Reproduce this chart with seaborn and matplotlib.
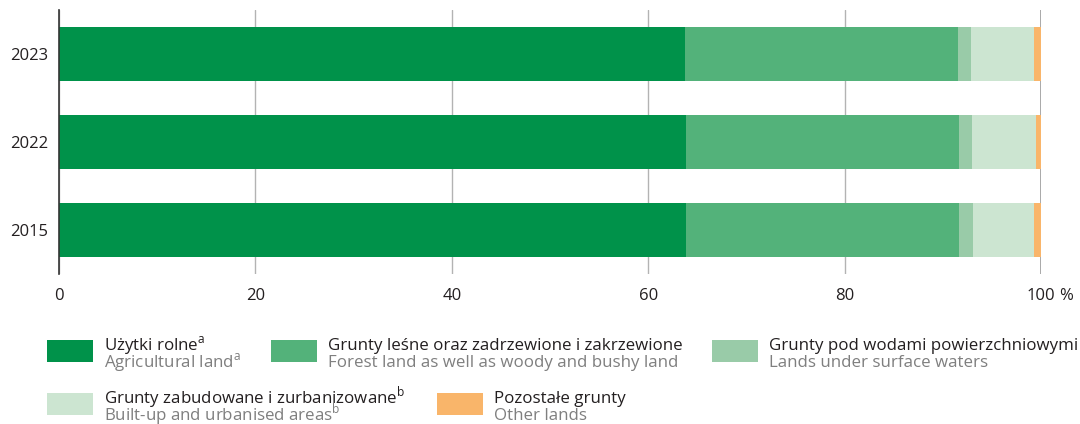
import pandas as pd
import matplotlib.pyplot as plt
import seaborn as sns
from matplotlib.patches import Rectangle

# Dane: struktura użytkowania gruntów (%)
lata = ['2023', '2022', '2015']
uzytki_rolne = [63.7, 63.9, 63.8]
grunty_lesne = [27.8, 27.7, 27.9]
grunty_wody = [1.4, 1.4, 1.4]
grunty_zabud = [6.4, 6.5, 6.2]
pozostale = [0.7, 0.5, 0.7]

nazwy_pl = ['Użytki rolne$^{\\mathrm{a}}$',
            'Grunty leśne oraz zadrzewione i zakrzewione',
            'Grunty pod wodami powierzchniowymi',
            'Grunty zabudowane i zurbanizowane$^{\\mathrm{b}}$',
            'Pozostałe grunty']
nazwy_en = ['Agricultural land$^{\\mathrm{a}}$',
            'Forest land as well as woody and bushy land',
            'Lands under surface waters',
            'Built-up and urbanised areas$^{\\mathrm{b}}$',
            'Other lands']
kolory = ['#00924A', '#53B27A', '#99CBA8', '#CCE5D1', '#F9B56A']
xticks = [0, 20, 40, 60, 80, 100]

sns.set_style('white')
plt.rcParams['font.family'] = ['Open Sans', 'DejaVu Sans']
plt.rcParams['mathtext.fontset'] = 'custom'
plt.rcParams['mathtext.rm'] = 'Open Sans'

data = pd.DataFrame({
    'Rok': lata,
    'a': uzytki_rolne,
    'b': grunty_lesne,
    'c': grunty_wody,
    'd': grunty_zabud,
    'e': pozostale,
})
kolumny = ['a', 'b', 'c', 'd', 'e']
skum = data[kolumny].cumsum(axis=1)

fig = plt.figure(figsize=(10.8, 4.24), dpi=100)
ax = fig.add_axes([59 / 1080, 1 - 274 / 424, 982 / 1080, 264 / 424])

# Słupki skumulowane - rysujemy od najdłuższego
for kol, kolor in reversed(list(zip(kolumny, kolory))):
    sns.barplot(x=skum[kol], y=data['Rok'], order=lata, orient='h',
                color=kolor, width=0.62, ax=ax, linewidth=0, saturation=1)

ax.set_xlim(0, 100)
ax.set_ylim(2.5, -0.5)
ax.set_xticks(xticks)
ax.set_xticklabels([str(t) for t in xticks])
ax.set_xlabel('')
ax.set_ylabel('')
ax.tick_params(axis='both', length=0, labelsize=12, colors='#231F20')
ax.tick_params(axis='x', pad=10)
ax.tick_params(axis='y', pad=8)
ax.xaxis.grid(True, color='#b3b3b3', linewidth=1)
ax.set_axisbelow(True)
for s in ['top', 'right', 'bottom']:
    ax.spines[s].set_visible(False)
ax.spines['left'].set_color('#333333')
ax.spines['left'].set_linewidth(1.2)
ax.axvline(100, color='#999999', linewidth=1.2, zorder=0)
# znak procentu obok etykiety 100
ax.annotate('%', xy=(100, 0), xycoords=('data', 'axes fraction'),
            xytext=(18, -13.9), textcoords='offset pixels', ha='left', va='top',
            fontsize=12, color='#231F20')

# Legenda rysowana ręcznie
pozycje = [(47, 340), (271, 340), (712, 340), (47, 393), (437, 393)]
for (px, py), pl, en, kolor in zip(pozycje, nazwy_pl, nazwy_en, kolory):
    fig.add_artist(Rectangle((px / 1080, 1 - (py + 22) / 424), 46 / 1080, 22 / 424,
                             transform=fig.transFigure, color=kolor, lw=0))
    fig.text((px + 57) / 1080, 1 - (py + 10) / 424, pl, fontsize=12.2,
             color='#231F20', va='baseline')
    fig.text((px + 57) / 1080, 1 - (py + 27) / 424, en, fontsize=12.2,
             color='#7f7f7f', va='baseline')

plt.savefig('out.png', dpi=100)
